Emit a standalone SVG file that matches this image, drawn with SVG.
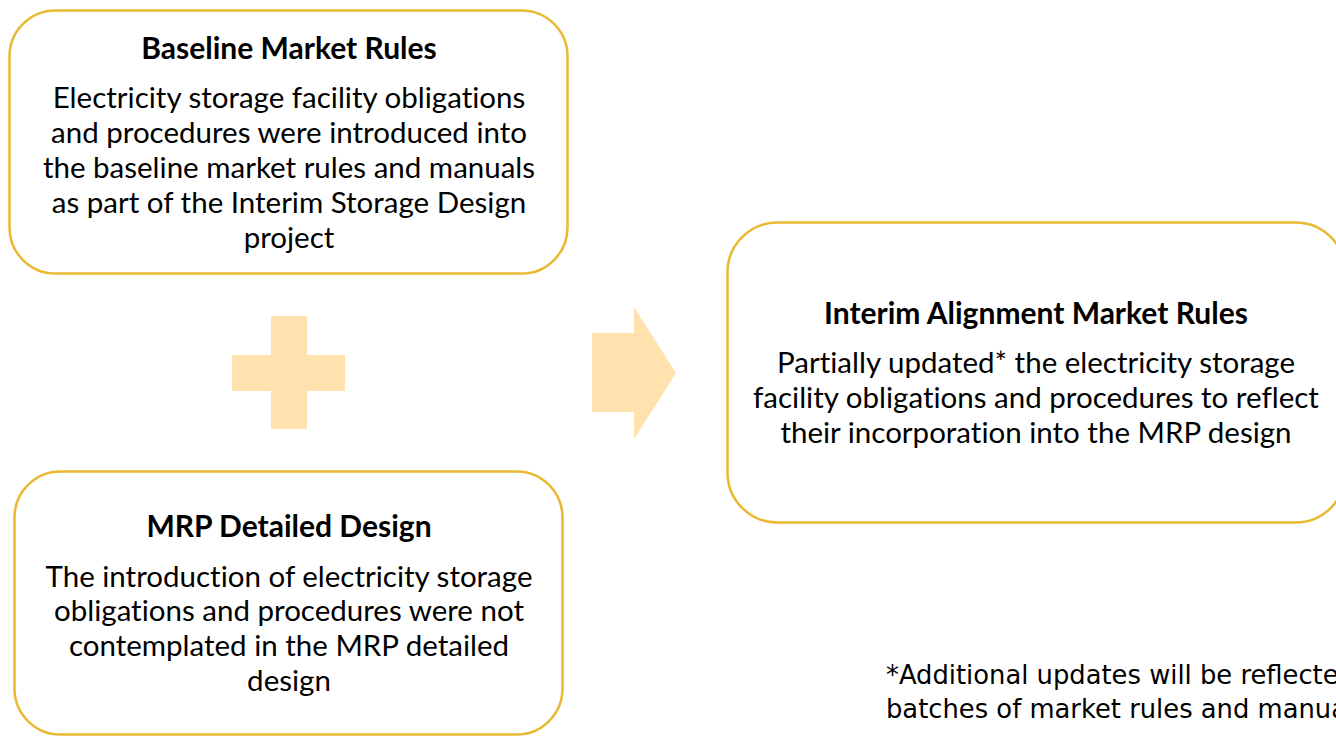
<svg xmlns="http://www.w3.org/2000/svg" width="1336" height="737" viewBox="0 0 1336 737">
<style>
.box{fill:#FFFFFF;stroke:#E8B931;stroke-width:2.5}
.t{font-family:Lato,"Open Sans",sans-serif;font-size:30px;font-weight:700;fill:#000;text-anchor:middle;dominant-baseline:central;font-variant-ligatures:none}
.b{font-family:Lato,"Open Sans",sans-serif;font-size:29.5px;fill:#000;text-anchor:middle;dominant-baseline:central;font-variant-ligatures:none}
.sym{fill:#FFE2AD}
.note{font-family:"DejaVu Sans",Verdana,sans-serif;font-size:25.8px;fill:#000;dominant-baseline:central}
</style>
<rect width="1336" height="737" fill="#FFFFFF"/>
<g id="baseline">
<rect class="box" x="9.5" y="10.5" width="558" height="263" rx="46"/>
<text class="t" x="289" y="47">Baseline Market Rules</text>
<text class="b" x="289" y="96">Electricity storage facility obligations</text>
<text class="b" x="289" y="131">and procedures were introduced into</text>
<text class="b" x="289" y="166">the baseline market rules and manuals</text>
<text class="b" x="289" y="201">as part of the Interim Storage Design</text>
<text class="b" x="289" y="236">project</text>
</g>
<g id="mrp">
<rect class="box" x="14.5" y="471.5" width="548" height="263" rx="46"/>
<text class="t" x="289" y="525">MRP Detailed Design</text>
<text class="b" x="289" y="575">The introduction of electricity storage</text>
<text class="b" x="289" y="609">obligations and procedures were not</text>
<text class="b" x="289" y="644">contemplated in the MRP detailed</text>
<text class="b" x="289" y="679">design</text>
</g>
<g id="interim">
<rect class="box" x="727.5" y="222.5" width="618" height="300" rx="50"/>
<text class="t" x="1036" y="312">Interim Alignment Market Rules</text>
<text class="b" x="1036" y="361">Partially updated* the electricity storage</text>
<text class="b" x="1036" y="396">facility obligations and procedures to reflect</text>
<text class="b" x="1036" y="431">their incorporation into the MRP design</text>
</g>
<g id="connectors">
<path id="plus" class="sym" d="M271 316H307V355H345V391H307V429H271V391H232V355H271Z"/>
<path id="arrow" class="sym" d="M592 333H634V307L676 373L634 439V412H592Z"/>
</g>
<g id="footnote">
<text class="note" x="886" y="675">*Additional updates will be reflected</text>
<text class="note" x="886" y="709">batches of market rules and manuals</text>
</g>
</svg>
